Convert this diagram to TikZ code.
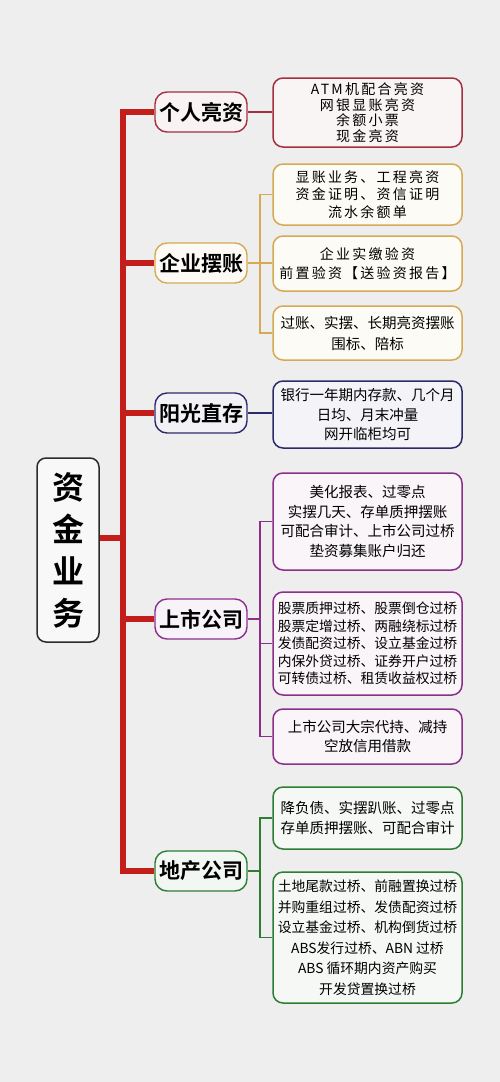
\documentclass[tikz,border=0pt]{standalone}
\usepackage{fontspec}
\setmainfont{Noto Sans CJK SC}[BoldFont={Noto Sans CJK SC Bold}]
\newfontfamily\spaced{Noto Sans CJK SC}[LetterSpace=16]
\usetikzlibrary{positioning, calc}
\definecolor{cbg}{HTML}{EEEEEE}
\definecolor{ctrunk}{HTML}{C41E1A}
\definecolor{croot}{HTML}{2E2A2A}
\definecolor{cred}{HTML}{A3303F}
\definecolor{cgold}{HTML}{D6AA55}
\definecolor{cnavy}{HTML}{2B2B6B}
\definecolor{cpurple}{HTML}{8B2F8B}
\definecolor{cgreen}{HTML}{2E7D32}
\tikzset{
  every picture/.style={x=1pt, y=-1pt, line join=miter},
  root/.style={draw=croot, fill=white!60!cbg, line width=1.5pt, rounded corners=9pt, minimum width=62pt, minimum height=184pt, inner sep=0pt, align=center, font=\fontsize{32}{42}\selectfont\bfseries},
  topic/.style={draw=#1, fill=#1!6, line width=1.4pt, rounded corners=12pt, minimum width=92pt, minimum height=40pt, inner sep=0pt, font=\fontsize{21}{24}\selectfont\bfseries},
  leaf/.style={draw=#1, fill=#1!5, line width=1.5pt, rounded corners=10pt, minimum width=189pt, inner sep=0pt, align=center, font=\fontsize{14.5}{19.5}\selectfont},
  trunk/.style={draw=ctrunk, line width=6pt},
  link/.style={draw=#1, line width=1.8pt},
}
\begin{document}
\begin{tikzpicture}
  \fill[cbg] (0,0) rectangle (500,1082);
  \useasboundingbox (0,0) rectangle (500,1082);
  \node[root] (root) at (68,550) {资\\金\\业\\务};
  \node[topic=cred] (t1) at (201,112) {个人亮资};
  \node[topic=cgold] (t2) at (201,263) {企业摆账};
  \node[topic=cnavy] (t3) at (201,413) {阳光直存};
  \node[topic=cpurple] (t4) at (201,619) {上市公司};
  \node[topic=cgreen] (t5) at (201,871) {地产公司};
  % main trunk
  \coordinate (tk) at (123,538);
  \draw[trunk] (root.east |- tk) -- (tk);
  \draw[trunk] (t1.west) -| (tk) |- (t5.west);
  \foreach \n in {t2,t3,t4}
    \draw[trunk] (tk |- \n.west) -- (\n.west);
  % leaves
  \node[leaf=cred, minimum height=69, font=\spaced\fontsize{14}{15.5}\selectfont] (a1) at (367.5,112.5) {ATM机配合亮资\\网银显账亮资\\余额小票\\现金亮资};
  \node[leaf=cgold, minimum height=61, font=\spaced\fontsize{14}{17.5}\selectfont] (b1) at (367.5,194.5) {显账业务、工程亮资\\资金证明、资信证明\\流水余额单};
  \node[leaf=cgold, minimum height=55, font=\spaced\fontsize{14}{19}\selectfont] (b2) at (367.5,263.5) {企业实缴验资\\前置验资【送验资报告】};
  \node[leaf=cgold, minimum height=54, font=\fontsize{14.5}{21}\selectfont] (b3) at (367.5,333) {过账、实摆、长期亮资摆账\\围标、陪标};
  \node[leaf=cnavy, minimum height=67] (c1) at (367.5,414.5) {银行一年期内存款、几个月\\日均、月末冲量\\网开临柜均可};
  \node[leaf=cpurple, minimum height=97] (d1) at (367.5,521.5) {美化报表、过零点\\实摆几天、存单质押摆账\\可配合审计、上市公司过桥\\垫资募集账户归还};
  \node[leaf=cpurple, minimum height=103, font=\fontsize{13.8}{17.5}\selectfont] (d2) at (367.5,643.5) {股票质押过桥、股票倒仓过桥\\股票定增过桥、两融绕标过桥\\发债配资过桥、设立基金过桥\\内保外贷过桥、证券开户过桥\\可转债过桥、租赁收益权过桥};
  \node[leaf=cpurple, minimum height=55] (d3) at (367.5,736.5) {上市公司大宗代持、减持\\空放信用借款};
  \node[leaf=cgreen, minimum height=62, font=\fontsize{14.5}{20}\selectfont] (e1) at (367.5,818) {降负债、实摆趴账、过零点\\存单质押摆账、可配合审计};
  \node[leaf=cgreen, minimum height=131, font=\fontsize{13.8}{20.5}\selectfont] (e2) at (367.5,937.5) {土地尾款过桥、前融置换过桥\\并购重组过桥、发债配资过桥\\设立基金过桥、机构倒货过桥\\ABS发行过桥、ABN 过桥\\ABS 循环期内资产购买\\开发贷置换过桥};
  % branches
  \draw[link=cred] (t1.east) -- (t1.east -| a1.west);
  \draw[link=cnavy] (t3.east) -- (t3.east -| c1.west);
  \draw[link=cgold] (t2.east) -- ++(12,0) coordinate (j2);
  \draw[link=cgold] (b1.west) -| (j2) |- (b3.west);
  \draw[link=cgold] (j2) -- (j2 -| b2.west);
  \draw[link=cpurple] (t4.east) -- ++(12,0) coordinate (j4);
  \draw[link=cpurple] (d1.west) -| (j4) |- (d3.west);
  \draw[link=cpurple] (j4 |- d2.west) -- (d2.west);
  \draw[link=cgreen] (t5.east) -- ++(12,0) coordinate (j5);
  \draw[link=cgreen] (e1.west) -| (j5) |- (e2.west);
\end{tikzpicture}
\end{document}
